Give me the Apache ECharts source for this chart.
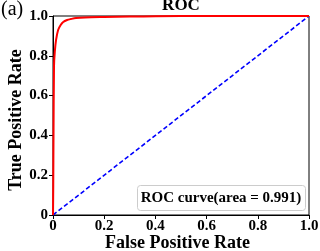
<!DOCTYPE html>
<html>
<head>
<meta charset="utf-8">
<script src="https://cdn.jsdelivr.net/npm/echarts@6/dist/echarts.min.js"></script>
<style>
  html, body { margin: 0; padding: 0; background: #fff; }
  #chart { width: 320px; height: 251px; }
</style>
</head>
<body>
<div id="chart"></div>
<script>
// ROC curve points
const fpr = [0, 0.001, 0.002, 0.004, 0.007, 0.012, 0.02, 0.03, 0.04, 0.055, 0.07, 0.09, 0.125, 0.2, 0.3, 0.5, 1.0];
const tpr = [0, 0.15, 0.4, 0.75, 0.82, 0.88, 0.93, 0.955, 0.97, 0.98, 0.985, 0.99, 0.993, 0.995, 0.997, 1.0, 1.0];
const chanceX = [0, 1];
const chanceY = [0, 1];
const tickLabels = ['0', '0.2', '0.4', '0.6', '0.8', '1.0'];
const legendText = 'ROC curve(area = 0.991)';

const font = 'Liberation Serif';
const chart = echarts.init(document.getElementById('chart'));

const tickFmt = v => tickLabels[Math.round(v * 5)];

const axisCommon = {
  type: 'value',
  min: 0,
  max: 1,
  interval: 0.2,
  nameLocation: 'middle',
  nameMoveOverlap: false,
  axisLine: { show: true, lineStyle: { color: '#000', width: 1 } },
  axisTick: { show: true, length: 4, lineStyle: { color: '#000' } },
  axisLabel: { fontFamily: font, fontWeight: 'bold', fontSize: 15, color: '#000', formatter: tickFmt },
  splitLine: { show: false }
};

const nameStyle = { fontFamily: font, fontWeight: 'bold', fontSize: 18, color: '#000' };

chart.setOption({
  animation: false,
  grid: {
    left: 53, right: 11, top: 16, bottom: 36,
    outerBoundsMode: 'none',
    show: true, borderColor: '#000', borderWidth: 1
  },
  title: {
    text: 'ROC',
    left: 181,
    top: -3,
    padding: 0,
    textAlign: 'center',
    textStyle: { fontFamily: font, fontWeight: 'bold', fontSize: 17, color: '#000' }
  },
  xAxis: Object.assign({}, axisCommon, {
    name: 'False Positive Rate',
    nameGap: 19,
    nameTextStyle: Object.assign({}, nameStyle, { padding: [0, 7, 0, 0] }),
    axisLabel: Object.assign({}, axisCommon.axisLabel, { margin: 4 })
  }),
  yAxis: Object.assign({}, axisCommon, {
    name: 'True Positive Rate',
    nameGap: 28,
    nameTextStyle: Object.assign({}, nameStyle, { padding: [0, 9, 0, 0] }),
    axisLabel: Object.assign({}, axisCommon.axisLabel, { margin: 5 })
  }),
  series: [
    {
      type: 'line',
      data: chanceX.map((x, i) => [x, chanceY[i]]),
      symbol: 'none',
      lineStyle: { color: '#0000ff', width: 1.6, type: [4.5, 2.5] }
    },
    {
      type: 'line',
      data: fpr.map((x, i) => [x, tpr[i]]),
      symbol: 'none',
      smooth: 0.3,
      lineStyle: { color: '#ff0000', width: 2 }
    }
  ],
  graphic: [
    {
      type: 'text',
      left: 1,
      top: 0,
      style: { text: '(a)', font: '20px "Liberation Serif"', fill: '#000' }
    },
    {
      type: 'rect',
      shape: { x: 137.5, y: 185.5, width: 168, height: 25, r: 3 },
      style: { fill: '#fff', stroke: '#cccccc', lineWidth: 1 }
    },
    {
      type: 'text',
      x: 221,
      y: 198,
      style: {
        text: legendText,
        font: 'bold 15px "Liberation Serif"',
        fill: '#000',
        align: 'center',
        verticalAlign: 'middle'
      }
    }
  ]
});
</script>
</body>
</html>
